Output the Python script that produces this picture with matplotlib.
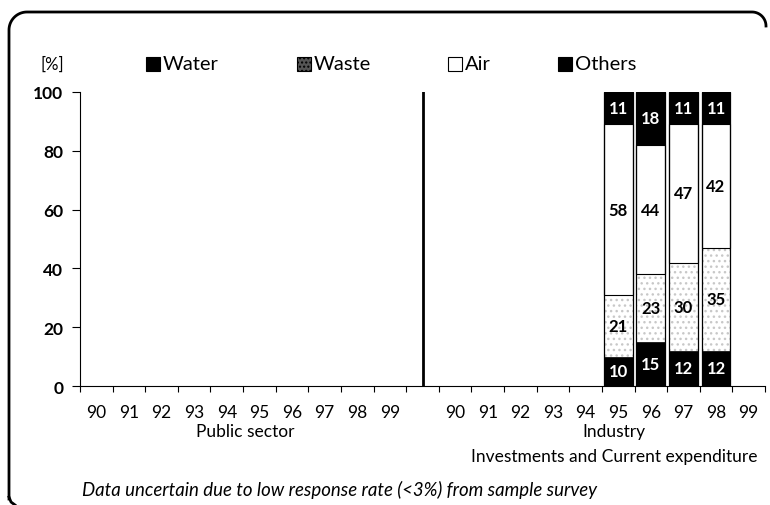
import numpy as np
import matplotlib.pyplot as plt
from matplotlib.lines import Line2D
from matplotlib.patches import Rectangle

# data (industry 95-98 only)
years = ['90', '91', '92', '93', '94', '95', '96', '97', '98', '99']
ind_years = ['95', '96', '97', '98']
water = [10, 15, 12, 12]
waste = [21, 23, 30, 35]
air = [58, 44, 47, 42]
others = [11, 18, 11, 11]

font = ['Lato', 'DejaVu Sans']
plt.rcParams['font.family'] = font

fig = plt.figure(figsize=(7.7, 5.06), dpi=100)
ax = fig.add_axes([80/770, 1-387/506, 685/770, 294/506])

# public slots 0..9, gap slot 10, industry slots 11..20
pos = [11 + years.index(y) for y in ind_years]
w = 0.88
bottom = np.zeros(len(pos))
ax.bar(pos, water, w, bottom=bottom, color='black', edgecolor='black', lw=0.5)
bottom += water
ax.bar(pos, waste, w, bottom=bottom, color='white', edgecolor='#c8c8c8', hatch='...', lw=0)
bottom += waste
ax.bar(pos, air, w, bottom=bottom, color='white', edgecolor='black', lw=0.8)
bottom += air
ax.bar(pos, others, w, bottom=bottom, color='black', edgecolor='black', lw=0.5)
# outline of each column
for p in pos:
    ax.add_patch(Rectangle((p - w/2, 0), w, 100, fill=False, ec='black', lw=0.9))

# value labels
for i, p in enumerate(pos):
    b = 0
    for vals, col in [(water, 'white'), (waste, 'black'), (air, 'black'), (others, 'white')]:
        v = vals[i]
        ax.text(p, b + v/2, str(v), ha='center', va='center', color=col,
                fontsize=12, fontweight='bold')
        b += v

# divider between public sector and industry
ax.plot([10, 10], [0, 100], color='black', lw=2)

ax.set_xlim(-0.5, 20.5)
ax.set_ylim(0, 100)
for s in ['top', 'right']:
    ax.spines[s].set_visible(False)
ax.spines['left'].set_linewidth(0.8)
ax.spines['bottom'].set_linewidth(0.8)

ax.set_yticks(range(0, 101, 20))
ax.tick_params(axis='y', direction='out', length=6, width=0.8, labelsize=12.5, pad=6)
for t in ax.get_yticklabels():
    t.set_fontweight('bold')

xt = list(range(10)) + list(range(11, 21))
ax.set_xticks(xt)
ax.set_xticklabels(years + years)
ax.set_xticks(np.arange(-0.5, 21, 1.0), minor=True)
ax.tick_params(axis='x', which='major', length=0, labelsize=12.5, pad=13)
ax.tick_params(axis='x', which='minor', direction='out', length=4, width=0.8)

# group labels
fig.text(245/770, 1-432/506, 'Public sector', ha='center', va='center', fontsize=12.5)
fig.text(614/770, 1-432/506, 'Industry', ha='center', va='center', fontsize=12.5)
fig.text(614/770, 1-457/506, 'Investments and Current expenditure', ha='center', va='center', fontsize=12.5)
fig.text(82/770, 1-490/506, 'Data uncertain due to low response rate (<3%) from sample survey',
         ha='left', va='center', fontsize=13.4, style='italic')

# legend row
ly = 1 - 65/506
fig.text(41/770, ly, '[%]', ha='left', va='center', fontsize=12)
items = [(146, 'Water', 'black', None), (297, 'Waste', '#555555', '....'),
         (448, 'Air', 'white', None), (558, 'Others', 'black', None)]
for x, name, col, h in items:
    fig.patches.append(Rectangle((x/770, ly - 7/506), 14/770, 14/506, transform=fig.transFigure,
                                 fc=col, ec='black', lw=0.8, hatch=h))
    fig.text((x + 17)/770, ly, name, ha='left', va='center', fontsize=14.5)

# rounded frame around the figure
t = np.linspace(0, np.pi/2, 20)
r = 18
fx = list(9 + r - r*np.cos(t)) + [752]
fy = list(13 + r - r*np.sin(t)) + [13]
fx = [9] + fx
fy = [500] + fy
fx += list(752 + 14*np.sin(t))
fy += list(13 + 14 - 14*np.cos(t))
fig.add_artist(Line2D(np.array(fx)/770, 1 - np.array(fy)/506, transform=fig.transFigure,
                      color='black', lw=2))
fig.add_artist(Line2D([9/770, 11/770, 15/770], [1-498/506, 1-503/506, 1-506/506],
                      transform=fig.transFigure, color='black', lw=2))

fig.savefig('out.png', dpi=100)
